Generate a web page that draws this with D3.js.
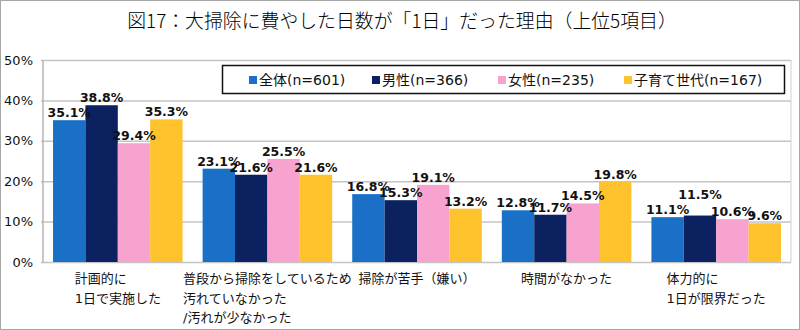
<!DOCTYPE html>
<html>
<head>
<meta charset="utf-8">
<script src="https://cdn.jsdelivr.net/npm/d3@7"></script>
<style>
  body { margin: 0; background: #fff; }
  svg { display: block; font-family: "DejaVu Sans", "Noto Sans CJK JP", sans-serif; }
</style>
</head>
<body>
<div id="chart"></div>
<script>
(function(){
    "use strict";

    // chart data
    var title = "図17：大掃除に費やした日数が「1日」だった理由（上位5項目）";
    var categories = [
        ["計画的に", "1日で実施した"],
        ["普段から掃除をしているため", "汚れていなかった", "/汚れが少なかった"],
        ["掃除が苦手（嫌い）"],
        ["時間がなかった"],
        ["体力的に", "1日が限界だった"]
    ];
    var seriesNames = ["全体(n=601)", "男性(n=366)", "女性(n=235)", "子育て世代(n=167)"];
    var seriesColors = ["#1A70C6", "#0B2160", "#F8A2D0", "#FDC22C"];
    var allValues    = [35.1, 23.1, 16.8, 12.8, 11.1];
    var maleValues   = [38.8, 21.6, 15.3, 11.7, 11.5];
    var femaleValues = [29.4, 25.5, 19.1, 14.5, 10.6];
    var parentValues = [35.3, 21.6, 13.2, 19.8, 9.6];
    var yTicks = [0, 10, 20, 30, 40, 50];

    var series = [allValues, maleValues, femaleValues, parentValues];

    var width = 800, height = 330;
    var plot = {left: 43, right: 791, top: 60, bottom: 262};

    var svg = d3.select("#chart").append("svg")
        .attr("width", width)
        .attr("height", height);

    // outer frame
    svg.append("rect")
        .attr("x", 0.5).attr("y", 0.5)
        .attr("width", width - 1).attr("height", height - 1)
        .attr("fill", "#fff")
        .attr("stroke", "#a6a6a6");

    // title, sized so it spans ~550px
    var titleText = svg.append("text")
        .attr("x", 402).attr("y", 28)
        .attr("text-anchor", "middle")
        .attr("font-family", "'Noto Sans CJK JP', sans-serif")
        .attr("font-size", 20)
        .attr("font-weight", 300)
        .attr("fill", "#000")
        .text(title);
    var tw = titleText.node().getComputedTextLength();
    titleText.attr("font-size", Math.min(22, 20 * 550 / tw));

    var x0 = d3.scaleBand()
        .domain(d3.range(categories.length))
        .range([plot.left, plot.right]);

    // bars fill about 87% of each category slot
    var groupWidth = x0.bandwidth() * 0.866;
    var x1 = d3.scaleBand()
        .domain(d3.range(series.length))
        .range([0, groupWidth]);

    var y = d3.scaleLinear().domain([0, 50]).range([plot.bottom, plot.top]);

    // gridlines + y axis
    var yAxis = d3.axisLeft(y)
        .tickValues(yTicks)
        .tickSize(-(plot.right - plot.left))
        .tickPadding(10)
        .tickFormat(function(d){ return d + "%"; });

    var gAxis = svg.append("g")
        .attr("transform", "translate(" + plot.left + ",0)")
        .call(yAxis);
    gAxis.select(".domain").remove();
    gAxis.selectAll(".tick line")
        .attr("x1", -2)
        .attr("stroke", "#c4c4c4")
        .attr("stroke-width", 1.5);
    gAxis.selectAll(".tick text")
        .attr("font-size", 13)
        .attr("fill", "#111")
        .attr("font-family", "'DejaVu Sans', sans-serif");

    // plot area side lines
    svg.append("line")
        .attr("x1", plot.left).attr("x2", plot.left)
        .attr("y1", plot.top).attr("y2", plot.bottom + 1)
        .attr("stroke", "#b5b5b5").attr("stroke-width", 1.5);
    svg.append("line")
        .attr("x1", plot.right).attr("x2", plot.right)
        .attr("y1", plot.top).attr("y2", plot.bottom)
        .attr("stroke", "#d0d0d0").attr("stroke-width", 1);

    // flatten into bar records
    var bars = [];
    categories.forEach(function(cat, i){
        series.forEach(function(vals, s){
            bars.push({cat: i, s: s, value: vals[i]});
        });
    });

    var groupLeft = function(i){
        return x0(i) + (x0.bandwidth() - groupWidth) / 2;
    };

    svg.append("g").selectAll("rect")
        .data(bars)
        .enter().append("rect")
        .attr("x", function(d){ return groupLeft(d.cat) + x1(d.s); })
        .attr("y", function(d){ return y(d.value); })
        .attr("width", x1.bandwidth())
        .attr("height", function(d){ return y(0) - y(d.value); })
        .attr("fill", function(d){ return seriesColors[d.s]; });

    // value labels; a label that would sit on top of its left neighbour is lifted
    var labelGap = 3, lift = 15;
    bars.forEach(function(d, k){
        d.ly = y(d.value) - labelGap;
        var prev = bars[k - 1];
        if(prev && prev.cat === d.cat && Math.abs(prev.ly - d.ly) < 3){
            d.ly = prev.ly - lift;
        }
    });

    svg.append("g").selectAll("text")
        .data(bars)
        .enter().append("text")
        .attr("x", function(d){ return groupLeft(d.cat) + x1(d.s) + x1.bandwidth() / 2; })
        .attr("y", function(d){ return d.ly; })
        .attr("text-anchor", "middle")
        .attr("font-size", 12.5)
        .attr("font-weight", "bold")
        .attr("font-family", "'DejaVu Sans', sans-serif")
        .attr("fill", "#111")
        .text(function(d){ return d.value.toFixed(1) + "%"; });

    // category labels: left-aligned block centred under each group
    var catG = svg.append("g").selectAll("text")
        .data(categories)
        .enter().append("text")
        .attr("y", 283)
        .attr("font-size", 13)
        .attr("fill", "#111");
    catG.selectAll("tspan")
        .data(function(d){ return d; })
        .enter().append("tspan")
        .attr("x", 0)
        .attr("dy", function(d, i){ return i === 0 ? 0 : 19.5; })
        .text(function(d){ return d; });
    catG.each(function(d, i){
        var w = this.getBBox().width;
        var left = x0(i) + x0.bandwidth() / 2 - w / 2;
        d3.select(this).selectAll("tspan").attr("x", left);
    });

    // legend
    var legend = svg.append("g");
    legend.append("rect")
        .attr("x", 222.5).attr("y", 65.5)
        .attr("width", 562).attr("height", 28)
        .attr("fill", "#fff")
        .attr("stroke", "#111")
        .attr("stroke-width", 1.5);

    var legendX = [249, 372, 498, 624];
    var item = legend.selectAll("g.item")
        .data(seriesNames)
        .enter().append("g")
        .attr("class", "item")
        .attr("transform", function(d, i){ return "translate(" + legendX[i] + ",80)"; });
    item.append("rect")
        .attr("x", 0).attr("y", -4)
        .attr("width", 8).attr("height", 8)
        .attr("fill", function(d, i){ return seriesColors[i]; });
    item.append("text")
        .attr("x", 10).attr("y", 5)
        .attr("font-size", 14)
        .attr("fill", "#111")
        .text(function(d){ return d; });
})();
</script>
</body>
</html>
